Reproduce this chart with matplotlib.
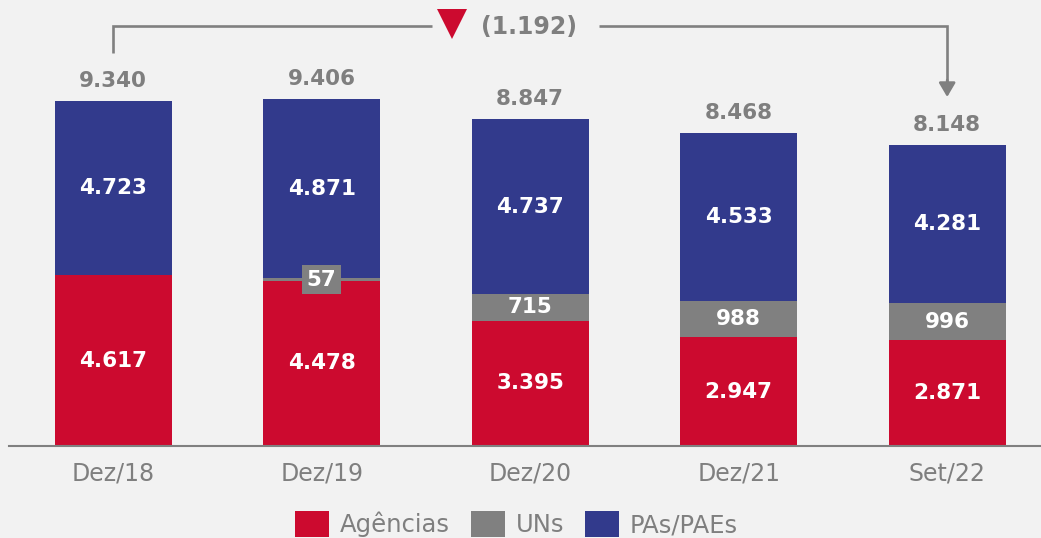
import matplotlib
matplotlib.use("Agg")
import matplotlib.pyplot as plt
from matplotlib.transforms import blended_transform_factory
from matplotlib.patches import Patch

categories = ['Dez/18', 'Dez/19', 'Dez/20', 'Dez/21', 'Set/22']
agencias = [4617, 4478, 3395, 2947, 2871]
uns = [0, 57, 715, 988, 996]
pas = [4723, 4871, 4737, 4533, 4281]
series_names = ['Agências', 'UNs', 'PAs/PAEs']

RED = '#cc0a2f'
GRAY = '#808080'
BLUE = '#323a8c'
BG = '#f2f2f2'
TXT = '#7f7f7f'

def fmt(v):
    return f"{v:,}".replace(',', '.')

W, H = 1041, 538
fig = plt.figure(figsize=(W / 100, H / 100), dpi=100, facecolor=BG)
ax = fig.add_axes([9 / W, 92 / H, 1032 / W, 446 / H])
ax.set_facecolor(BG)

x = list(range(len(categories)))
bw = 0.56
totals = [a + u + p for a, u, p in zip(agencias, uns, pas)]
bottom_un = agencias
bottom_pa = [a + u for a, u in zip(agencias, uns)]

ax.bar(x, agencias, width=bw, color=RED, label=series_names[0])
ax.bar(x, uns, width=bw, bottom=bottom_un, color=GRAY, label=series_names[1])
ax.bar(x, pas, width=bw, bottom=bottom_pa, color=BLUE, label=series_names[2])

ymax = 12074
ax.set_xlim(-0.5, 4.45)
ax.set_ylim(0, ymax)

num_fs = 15.5
for i in x:
    ax.text(i, agencias[i] / 2, fmt(agencias[i]), ha='center', va='center',
            color='white', fontsize=num_fs, fontweight='bold')
    ax.text(i, bottom_pa[i] + pas[i] / 2, fmt(pas[i]), ha='center', va='center',
            color='white', fontsize=num_fs, fontweight='bold')
    if uns[i] > 0:
        kw = {}
        if uns[i] < 400:
            kw['bbox'] = dict(boxstyle='square,pad=0.22', facecolor=GRAY, edgecolor='none')
        ax.text(i, bottom_un[i] + uns[i] / 2, fmt(uns[i]), ha='center', va='center',
                color='white', fontsize=num_fs, fontweight='bold', **kw)
    ax.text(i, totals[i] + 20 / 446 * ymax, fmt(totals[i]), ha='center', va='center',
            color=TXT, fontsize=num_fs, fontweight='bold')

# bracket annotation
tr = blended_transform_factory(ax.transData, ax.transAxes)
yb = 1 - 26 / 446
lw = 1.9
ax.plot([0, 0, 1.528], [1 - 53 / 446, yb, yb], color=GRAY, lw=lw, transform=tr,
        clip_on=False, solid_joinstyle='miter', solid_capstyle='butt')
ax.plot([2.329, 4, 4], [yb, yb, 1 - 88 / 446], color=GRAY, lw=lw, transform=tr,
        clip_on=False, solid_joinstyle='miter', solid_capstyle='butt')
ax.annotate('', xy=(4, 1 - 97 / 446), xytext=(4, 1 - 80 / 446), xycoords=tr, textcoords=tr,
            arrowprops=dict(arrowstyle='-|>,head_length=0.85,head_width=0.5', color=GRAY,
                            lw=lw, shrinkA=0, shrinkB=0), annotation_clip=False)
diff = totals[-1] - totals[0]
ax.plot([1.623], [1 - 23.5 / 446], marker='v', markersize=22, color=RED,
        markeredgewidth=0, transform=tr, clip_on=False)
label = f"({fmt(abs(diff))})" if diff < 0 else fmt(diff)
ax.text(1.763, 1 - 27 / 446, label, transform=tr, ha='left', va='center',
        color=TXT, fontsize=17, fontweight='bold')

for s in ['top', 'right', 'left']:
    ax.spines[s].set_visible(False)
ax.spines['bottom'].set_color(GRAY)
ax.spines['bottom'].set_linewidth(1.5)
ax.set_yticks([])
ax.set_xticks(x)
ax.set_xticklabels(categories, fontsize=17, color=TXT)
ax.tick_params(axis='x', length=0, pad=11)

handles = [Patch(facecolor=c, edgecolor='none') for c in (RED, GRAY, BLUE)]
fig.legend(handles, series_names, loc='center', bbox_to_anchor=(0.496, 14 / H),
           ncol=3, frameon=False, fontsize=17.5, labelcolor=TXT,
           handlelength=1.4, handleheight=1.3, handletextpad=0.45, columnspacing=0.85,
           borderpad=0)

fig.savefig('out.png', dpi=100, facecolor=BG)
